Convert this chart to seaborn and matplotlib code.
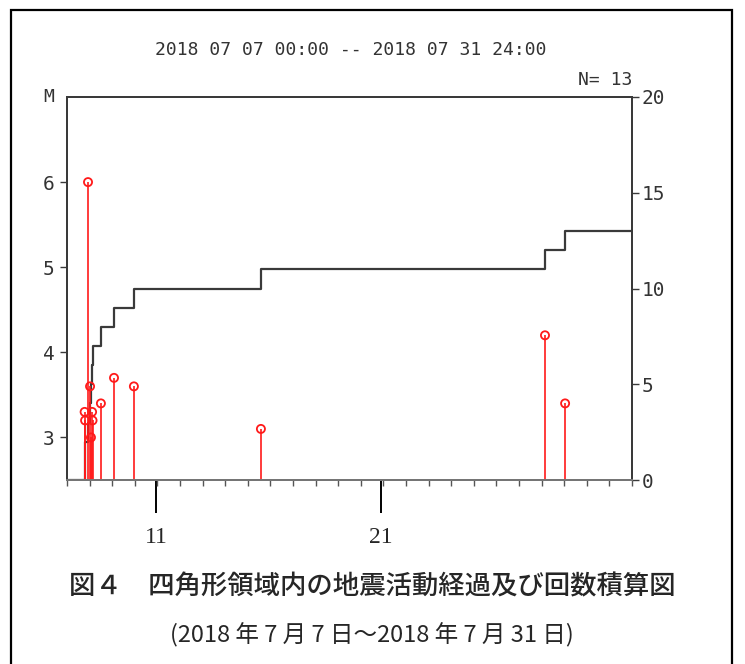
import matplotlib
matplotlib.use("Agg")
import numpy as np
import pandas as pd
import matplotlib.pyplot as plt
import seaborn as sns
from matplotlib.patches import Rectangle

# ── Data: events (days since 2018-07-07 00:00, magnitude) ─────────────────────
event_days = [0.78, 0.80, 0.93, 1.02, 1.06, 1.11, 1.13,
              1.50, 2.08, 2.96, 8.58, 21.15, 22.04]
event_mags = [3.3, 3.2, 6.0, 3.6, 3.0, 3.3, 3.2,
              3.4, 3.7, 3.6, 3.1, 4.2, 3.4]
day_span = 25  # 07 07 00:00 .. 07 31 24:00
day_ticks = [3.95, 13.88]
day_labels = ["11", "21"]
mag_ticks = [3, 4, 5, 6]
count_ticks = [0, 5, 10, 15, 20]

sns.set_theme(style="white")
plt.rcParams["font.family"] = ["DejaVu Sans Mono", "DejaVu Sans"]

LINE = "#3a3a3a"
RED = "#ff1a1a"

fig = plt.figure(figsize=(7.45, 6.64), dpi=100)
ax = fig.add_axes([67 / 745, 1 - 480 / 664, (632 - 67) / 745, (480 - 97) / 664])
ax2 = ax.twinx()

# cumulative count (right axis)
order = np.argsort(event_days)
times = np.array(event_days)[order]
cum = pd.DataFrame({
    "day": np.concatenate([[0], times, [day_span]]),
    "n": np.concatenate([[0], np.arange(1, len(times) + 1), [len(times)]]),
})
sns.lineplot(data=cum, x="day", y="n", ax=ax2, drawstyle="steps-post",
             estimator=None, sort=False, color=LINE, linewidth=1.6, zorder=3)

# magnitude stems (left axis)
ev = pd.DataFrame({"day": event_days, "mag": event_mags})
ax.vlines(ev["day"], 2.5, ev["mag"], color=RED, linewidth=1.2, zorder=2)
sns.scatterplot(data=ev, x="day", y="mag", ax=ax, marker="o", s=34,
                facecolor="none", edgecolor=RED, linewidth=1.3, zorder=4)

ax.set_xlim(0, day_span)
ax.set_ylim(2.5, 7)
ax2.set_ylim(0, 20)
ax.set_xlabel("")
ax.set_ylabel("")
ax2.set_ylabel("")

ax.set_yticks(mag_ticks)
ax.set_yticklabels([str(t) for t in mag_ticks])
ax2.set_yticks(count_ticks)
ax2.set_yticklabels([str(t) for t in count_ticks])

ax.set_xticks(day_ticks)
ax.set_xticklabels(day_labels, fontfamily="Liberation Serif", fontsize=17)
ax.set_xticks(range(0, day_span + 1), minor=True)
ax.tick_params(axis="x", which="major", direction="out", length=24, width=1.4,
               color="black", pad=10, bottom=True)
ax.tick_params(axis="x", which="minor", direction="out", length=4, width=1.0,
               color="#555555", bottom=True)
ax.tick_params(axis="y", direction="out", length=5, width=1.0, color=LINE,
               labelsize=14, left=True, pad=4, labelcolor="#333333")
ax2.tick_params(axis="y", direction="out", length=5, width=1.0, color=LINE,
                labelsize=14, right=True, pad=2, labelcolor="#333333")

for a in (ax, ax2):
    a.grid(False)
    for s in a.spines.values():
        s.set_color(LINE)
        s.set_linewidth(1.4)
ax.spines["bottom"].set_color("#777777")
ax2.set_zorder(ax.get_zorder() - 1)
ax.patch.set_visible(False)

# header texts
fig.text(351 / 745, 1 - 50 / 664, "2018 07 07 00:00 -- 2018 07 31 24:00",
         ha="center", va="center", fontsize=13, color="#333333")
fig.text(632 / 745, 1 - 80 / 664, "N= 13", ha="right", va="center",
         fontsize=13, color="#333333")
fig.text(49 / 745, 1 - 97 / 664, "M", ha="center", va="center",
         fontsize=13, color="#333333")

# caption
cap_font = ["Noto Sans CJK JP", "DejaVu Sans"]
fig.text(372 / 745, 1 - 587 / 664, "図４　四角形領域内の地震活動経過及び回数積算図",
         ha="center", va="center", fontsize=19, family=cap_font, weight="medium")
fig.text(372 / 745, 1 - 635 / 664, "(2018 年 7 月 7 日～2018 年 7 月 31 日)",
         ha="center", va="center", fontsize=17, family=cap_font)

# outer frame
fig.patches.append(Rectangle((11 / 745, -0.05), (732 - 11) / 745, 1.05 - 10 / 664,
                             transform=fig.transFigure, fill=False,
                             edgecolor="black", linewidth=1.6))

fig.savefig("out.png", dpi=100)
